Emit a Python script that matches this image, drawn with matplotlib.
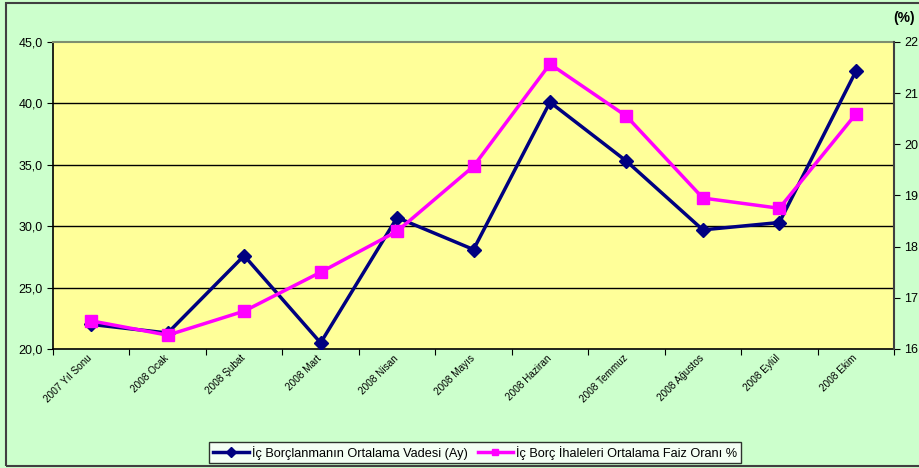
import matplotlib
matplotlib.use("Agg")
import matplotlib.pyplot as plt
from matplotlib.ticker import FixedLocator, FuncFormatter
from matplotlib.patches import Rectangle
from matplotlib.transforms import ScaledTranslation

categories = ["2007 Yıl Sonu", "2008 Ocak", "2008 Şubat", "2008 Mart", "2008 Nisan",
              "2008 Mayıs", "2008 Haziran", "2008 Temmuz", "2008 Ağustos", "2008 Eylül", "2008 Ekim"]
vade = [22.0, 21.3, 27.6, 20.5, 30.7, 28.1, 40.1, 35.3, 29.7, 30.3, 42.6]
faiz = [16.55, 16.27, 16.74, 17.50, 18.30, 19.57, 21.57, 20.55, 18.95, 18.75, 20.59]
left_ticks = [20, 25, 30, 35, 40, 45]
right_ticks = [16, 17, 18, 19, 20, 21, 22]
label_vade = "İç Borçlanmanın Ortalama Vadesi (Ay)"
label_faiz = "İç Borç İhaleleri Ortalama Faiz Oranı %"

plt.rcParams['font.family'] = ['Liberation Sans', 'DejaVu Sans']

fig = plt.figure(figsize=(9.19, 4.68), dpi=100)
fig.patch.set_facecolor('#CCFFCC')
fig.patches.append(Rectangle((0.006, 0.004), 1.2, 0.99, transform=fig.transFigure,
                             fill=False, edgecolor='#404040', linewidth=1.5))

ax = fig.add_axes([0.0577, 0.2543, 0.9151, 0.6560])
ax.set_facecolor('#FFFF99')
n = len(categories)
x = list(range(n))
ax.set_xlim(-0.5, n - 0.5)
ax.set_ylim(20, 45)
ax.yaxis.set_major_locator(FixedLocator(left_ticks))
ax.yaxis.set_major_formatter(FuncFormatter(lambda v, p: f"{v:.1f}".replace('.', ',')))
for v in left_ticks[1:-1]:
    ax.axhline(v, color='black', linewidth=1.0, zorder=1)
ax.xaxis.set_major_locator(FixedLocator([i - 0.5 for i in range(n + 1)]))
ax.xaxis.set_major_formatter(FuncFormatter(lambda v, p: ""))
ax.xaxis.set_minor_locator(FixedLocator(x))
ax.set_xticklabels(categories, minor=True)
ax.tick_params(axis='x', which='minor', length=0, labelsize=7.2, pad=3)
off = ScaledTranslation(-4 / 100, 0, fig.dpi_scale_trans)
for lbl in ax.get_xticklabels(minor=True):
    lbl.set_rotation(45)
    lbl.set_ha('right')
    lbl.set_va('top')
    lbl.set_rotation_mode('anchor')
    lbl.set_transform(lbl.get_transform() + off)
ax.tick_params(axis='x', which='major', direction='out', length=4, color='black')
ax.tick_params(axis='y', direction='out', length=4, labelsize=9, colors='black')
for s in ['left', 'bottom']:
    ax.spines[s].set_color('black')
    ax.spines[s].set_linewidth(1.2)
ax.spines['top'].set_color('#7F8F6F')
ax.spines['top'].set_linewidth(1.5)
ax.spines['right'].set_visible(False)

l1, = ax.plot(x, vade, color='#000080', linewidth=2.5, marker='D', markersize=7,
              label=label_vade, zorder=3)

ax2 = ax.twinx()
ax2.set_ylim(16, 22)
ax2.yaxis.set_major_locator(FixedLocator(right_ticks))
ax2.tick_params(axis='y', direction='out', length=4, labelsize=9, colors='black')
ax2.spines['right'].set_color('#404040')
ax2.spines['right'].set_linewidth(1.5)
for s in ['left', 'top', 'bottom']:
    ax2.spines[s].set_visible(False)
l2, = ax2.plot(x, faiz, color='#FF00FF', linewidth=2.5, marker='s', markersize=9,
               label=label_faiz, zorder=2)

fig.text(0.972, 0.962, "(%)", fontsize=10, fontweight='bold', ha='left', va='center')

leg = fig.legend(handles=[l1, l2], loc='center', bbox_to_anchor=(0.517, 0.033), ncol=2,
                 fontsize=9.2, frameon=True, fancybox=False, handlelength=2.8,
                 handletextpad=0.2, columnspacing=0.8, borderpad=0.3, borderaxespad=0)
leg.get_frame().set_edgecolor('black')
leg.get_frame().set_facecolor('white')
leg.get_frame().set_linewidth(1.0)
for h in leg.legend_handles:
    h.set_markersize(5)

fig.savefig("out.png", dpi=100, facecolor=fig.get_facecolor())
